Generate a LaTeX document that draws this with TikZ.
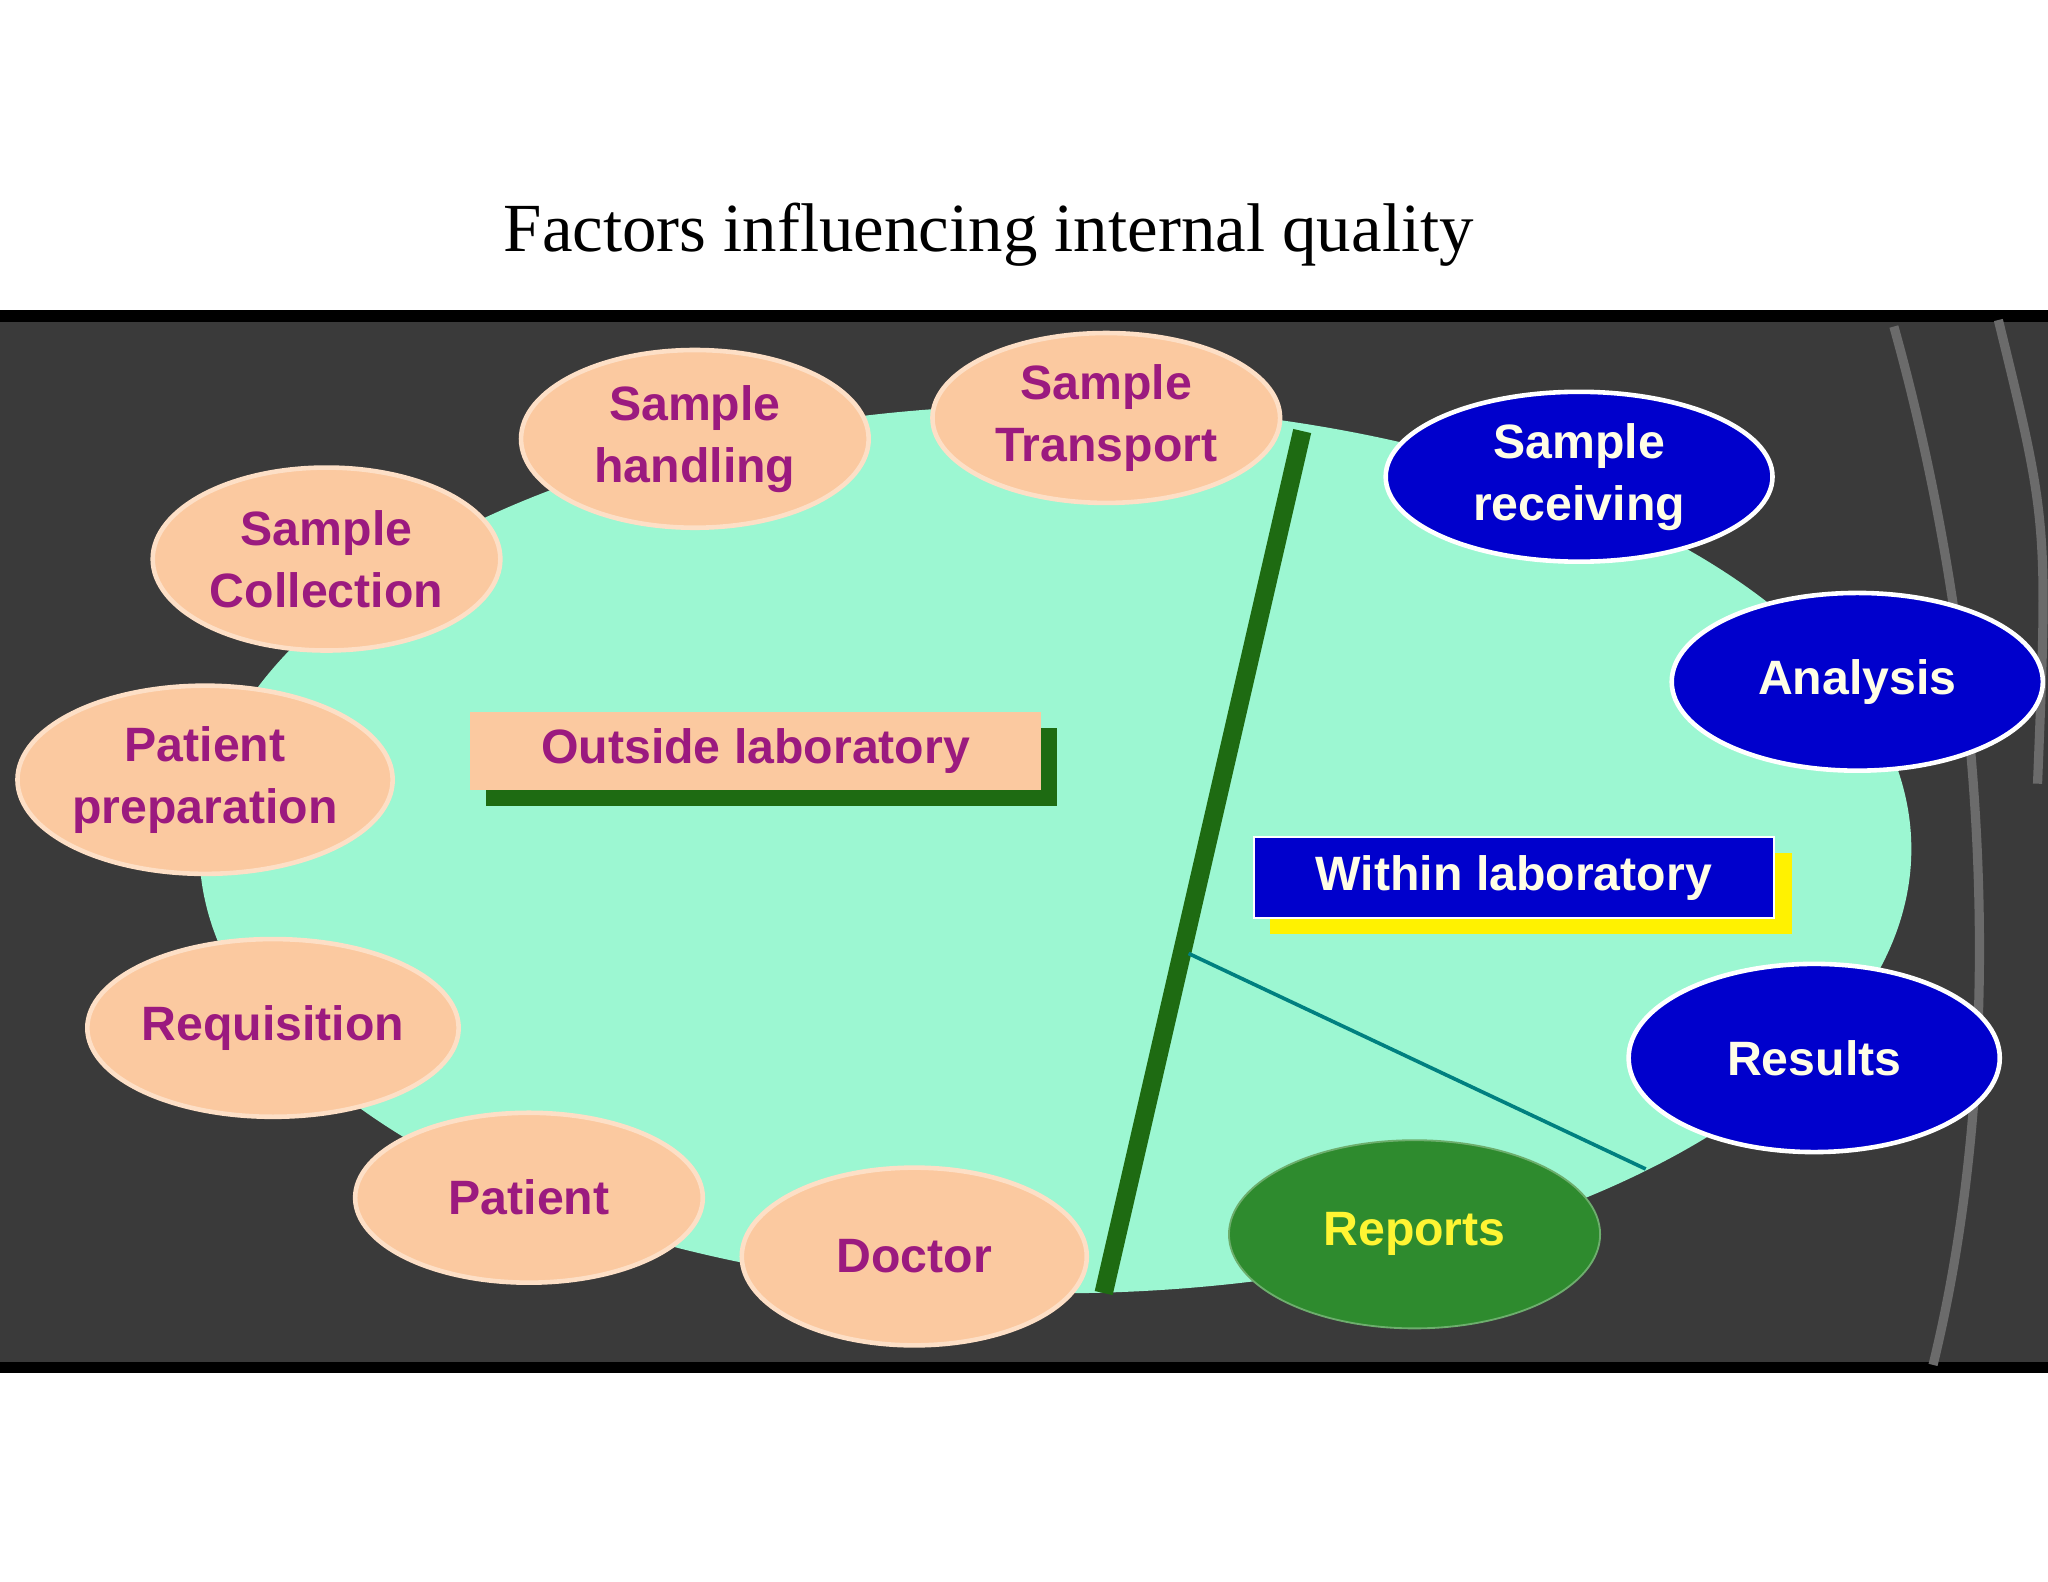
\documentclass[tikz,border=0pt]{standalone}
\usepackage{fontspec}
\setmainfont{Liberation Serif}
\setsansfont{Liberation Sans}
\usetikzlibrary{shapes.geometric}
\definecolor{mint}{HTML}{9CF7D2}
\definecolor{peach}{HTML}{FBC9A0}
\definecolor{purp}{HTML}{9B1A7F}
\definecolor{dblue}{HTML}{0000CC}
\definecolor{dgreen}{HTML}{1E6B12}
\definecolor{rgreen}{HTML}{2E8B2E}
\definecolor{band}{HTML}{3A3A3A}
\tikzset{
 lbl/.style={font=\sffamily\bfseries\fontsize{10.5}{13.5}\selectfont,align=center},
 pe/.style={ellipse,lbl,fill=peach,draw=peach!60!white,line width=1pt,text=purp,inner sep=0},
 be/.style={ellipse,lbl,fill=dblue,draw=white,line width=1pt,text=white!90!yellow,inner sep=0},
}
\begin{document}
\begin{tikzpicture}[x=0.01cm,y=-0.01cm]
\useasboundingbox (0,0) rectangle (1568,1211);
\fill[white] (0,0) rectangle (1568,1211);
\node[font=\fontsize{15}{18}\selectfont] (title) at (757,180) {Factors influencing internal quality};
\fill[band] (0,240) rectangle (1568,1050);
\draw[line width=2.5pt] (0,242) -- (1568,242);
\draw[line width=2.5pt] (0,1047) -- (1568,1047);
\draw[gray!70!band,line width=2pt] (1450,250) .. controls (1520,500) and (1540,800) .. (1480,1045);
\draw[gray!70!band,line width=2pt] (1530,245) .. controls (1568,400) .. (1560,600);
\node[ellipse,fill=mint,minimum width=13.1cm,minimum height=6.8cm,inner sep=0] (big) at (808,650) {};
\draw[dgreen,line width=4pt] (997,330) -- (845,990);
\coordinate (t1) at (910,730);
\coordinate (t2) at (1260,895);
\draw[teal,line width=0.8pt] (t1) -- (t2);
\node[pe,minimum width=2.66cm,minimum height=1.36cm] (sh) at (532,336) {Sample\\handling};
\node[pe,minimum width=2.66cm,minimum height=1.30cm] (st) at (847,320) {Sample\\Transport};
\node[pe,minimum width=2.66cm,minimum height=1.40cm] (sc) at (250,428) {Sample\\Collection};
\node[pe,minimum width=2.70cm,minimum height=1.44cm] (pp) at (157,597) {Patient\\preparation};
\node[pe,minimum width=2.66cm,minimum height=1.36cm] (rq) at (209,787) {Requisition};
\node[pe,minimum width=2.66cm,minimum height=1.30cm] (pt) at (405,917) {Patient};
\node[pe,minimum width=2.64cm,minimum height=1.36cm] (dc) at (700,962) {Doctor};
\node[be,minimum width=2.96cm,minimum height=1.30cm] (sr) at (1209,365) {Sample\\receiving};
\node[be,minimum width=2.84cm,minimum height=1.36cm] (an) at (1422,522) {Analysis};
\node[be,minimum width=2.84cm,minimum height=1.44cm] (rs) at (1389,810) {Results};
\node[ellipse,lbl,fill=rgreen,draw=rgreen!70!white,text=yellow!80!white,minimum width=2.84cm,minimum height=1.44cm,inner sep=0] (rp) at (1083,945) {Reports};
\fill[dgreen] (372,557) rectangle (809,617);
\node[lbl,fill=peach,text=purp,minimum width=4.37cm,minimum height=0.60cm,inner sep=0] (ol) at (578.5,575) {Outside laboratory};
\fill[yellow] (972,653) rectangle (1372,715);
\node[lbl,fill=dblue,text=white!90!yellow,draw=white,minimum width=3.98cm,minimum height=0.62cm,inner sep=0] (wl) at (1159,672) {Within laboratory};
\end{tikzpicture}
\end{document}
